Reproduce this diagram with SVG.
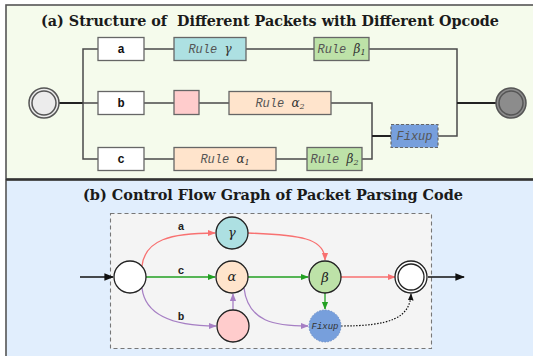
<svg xmlns="http://www.w3.org/2000/svg" width="533" height="356" viewBox="0 0 533 356">
<defs>
<style>
.title{font-family:"DejaVu Serif","Liberation Serif",serif;font-weight:bold;font-size:15px;fill:#1a1a1a}
.box{stroke:#666;stroke-width:1.3}
.lbl{font-family:"Liberation Mono","DejaVu Sans Mono",monospace;font-weight:bold;font-size:12px;fill:#111;text-anchor:middle}
.rule{font-family:"Liberation Mono","DejaVu Sans Mono",monospace;font-style:italic;font-size:12px;fill:#555;text-anchor:middle}
.gk{font-family:"DejaVu Serif","Liberation Serif",serif;font-style:italic;fill:#333}
.wire{stroke:#4a4a4a;stroke-width:1.5;fill:none}
.wireb{stroke:#222;stroke-width:2;fill:none}
.node{stroke:#222;stroke-width:1.3}
.greek{font-family:"DejaVu Serif","Liberation Serif",serif;font-style:italic;font-size:13px;fill:#222;text-anchor:middle}
.elbl{font-family:"Liberation Mono","DejaVu Sans Mono",monospace;font-weight:bold;font-size:11px;fill:#222;text-anchor:middle}
.red{stroke:#f87171;stroke-width:1.3;fill:none}
.grn{stroke:#22a022;stroke-width:1.3;fill:none}
.pur{stroke:#a67fc4;stroke-width:1.3;fill:none}
</style>
<marker id="mr" viewBox="0 0 10 10" refX="9" refY="5" markerWidth="6" markerHeight="6" orient="auto"><path d="M0,1 L10,5 L0,9 z" fill="#f87171"/></marker>
<marker id="mg" viewBox="0 0 10 10" refX="9" refY="5" markerWidth="6" markerHeight="6" orient="auto"><path d="M0,1 L10,5 L0,9 z" fill="#22a022"/></marker>
<marker id="mp" viewBox="0 0 10 10" refX="9" refY="5" markerWidth="6" markerHeight="6" orient="auto"><path d="M0,1 L10,5 L0,9 z" fill="#a67fc4"/></marker>
<marker id="mk" viewBox="0 0 10 10" refX="9" refY="5" markerWidth="6" markerHeight="6" orient="auto"><path d="M0,1 L10,5 L0,9 z" fill="#111"/></marker>
</defs>

<!-- panels -->
<g id="panel-a">
<rect x="6" y="5" width="532" height="174" fill="#f5fbec" stroke="#555" stroke-width="1.6"/>
<text class="title" x="270" y="26" text-anchor="middle" textLength="458" lengthAdjust="spacingAndGlyphs" xml:space="preserve">(a) Structure of  Different Packets with Different Opcode</text>
</g>
<g id="panel-b">
<rect x="6" y="180" width="532" height="180" fill="#e1eefd" stroke="#555" stroke-width="1.6"/>
<line x1="6" y1="179.5" x2="533" y2="179.5" stroke="#333" stroke-width="2.2"/>
<text class="title" x="273" y="200" text-anchor="middle" textLength="380" lengthAdjust="spacingAndGlyphs">(b) Control Flow Graph of Packet Parsing Code</text>
<rect x="110.5" y="213.5" width="321" height="135" fill="#f4f4f4" stroke="#777" stroke-width="1.1" stroke-dasharray="4,3"/>
</g>

<!-- connectors panel a -->
<g id="wires-a">
<path class="wireb" d="M59,103 H83"/>
<path class="wire" d="M98,49 H83 V159 H98 M83,103 H98"/>
<path class="wire" d="M144,49 H174 M246,49 H314 M369,49 H457 V136 H438"/>
<path class="wire" d="M144,103 H174 M199,103 H229 M331,103 H372 V159 H362"/>
<path class="wire" d="M144,159 H174 M276,159 H307"/>
<path class="wireb" d="M372,136 H391"/>
<path class="wireb" d="M457,103 H496"/>
</g>

<g id="start-a">
<circle cx="44" cy="103" r="15" fill="#ececec" stroke="#555" stroke-width="1.5"/>
<circle cx="44" cy="103" r="12" fill="#ececec" stroke="#555" stroke-width="1.5"/>
</g>
<g id="end-a">
<circle cx="511" cy="103" r="15" fill="#8c8c8c" stroke="#555" stroke-width="1.5"/>
<circle cx="511" cy="103" r="12" fill="#8c8c8c" stroke="#555" stroke-width="1.5"/>
</g>

<g id="box-a"><rect class="box" x="98" y="37.5" width="46" height="23" fill="#fff"/><text class="lbl" x="121" y="53">a</text></g>
<g id="box-b"><rect class="box" x="98" y="91.5" width="46" height="23" fill="#fff"/><text class="lbl" x="121" y="107">b</text></g>
<g id="box-c"><rect class="box" x="98" y="147.5" width="46" height="23" fill="#fff"/><text class="lbl" x="121" y="163">c</text></g>

<g id="rule-gamma"><rect class="box" x="174" y="37.5" width="72" height="23" fill="#ade0e2"/><text class="rule" x="210" y="53">Rule <tspan class="gk">γ</tspan></text></g>
<g id="pink-box"><rect class="box" x="174" y="90.5" width="25" height="24" fill="#ffcccc"/></g>
<g id="rule-alpha2"><rect class="box" x="229" y="91.5" width="102" height="23" fill="#ffe4cc"/><text class="rule" x="280" y="107">Rule <tspan class="gk">α</tspan><tspan class="gk" font-style="normal" font-size="8" dy="2">2</tspan></text></g>
<g id="rule-alpha1"><rect class="box" x="174" y="147.5" width="102" height="23" fill="#ffe4cc"/><text class="rule" x="225" y="163">Rule <tspan class="gk">α</tspan><tspan class="gk" font-style="normal" font-size="8" dy="2">1</tspan></text></g>
<g id="rule-beta1"><rect class="box" x="314" y="37.5" width="55" height="23" fill="#bde2a8"/><text class="rule" x="341.5" y="53">Rule <tspan class="gk">β</tspan><tspan class="gk" font-style="normal" font-size="8" dy="2">1</tspan></text></g>
<g id="rule-beta2"><rect class="box" x="307" y="147.5" width="55" height="23" fill="#bde2a8"/><text class="rule" x="334.5" y="163">Rule <tspan class="gk">β</tspan><tspan class="gk" font-style="normal" font-size="8" dy="2">2</tspan></text></g>
<g id="fixup-a"><rect x="391" y="124.5" width="47" height="23" fill="#779fdc" stroke="#666" stroke-width="1.2" stroke-dasharray="3,2"/><text class="rule" x="414.5" y="140" fill="#333">Fixup</text></g>

<!-- connectors panel b -->
<g id="edges-b">
<path d="M80,277 H113" stroke="#111" stroke-width="1.6" fill="none" marker-end="url(#mk)"/>
<path d="M428,277 H464" stroke="#111" stroke-width="1.6" fill="none" marker-end="url(#mk)"/>
<path class="red" d="M142,266 C145,240 170,233 215,233" marker-end="url(#mr)"/>
<path class="grn" d="M146,277 H215" marker-end="url(#mg)"/>
<path class="pur" d="M142,288 C145,314 170,326 216,326" marker-end="url(#mp)"/>
<path class="red" d="M248,233 C300,235 325,238 325,260" marker-end="url(#mr)"/>
<path class="grn" d="M248,277 H308" stroke-width="1.6" marker-end="url(#mg)"/>
<path class="pur" d="M233,310 V294" marker-end="url(#mp)"/>
<path class="pur" d="M244,288 C248,322 275,326 308,326" marker-end="url(#mp)"/>
<path class="red" d="M341,277 H395" marker-end="url(#mr)"/>
<path class="grn" d="M325,293 V309" marker-end="url(#mg)"/>
<path d="M341,326 C390,326 410,318 411,294" stroke="#111" stroke-width="1.2" stroke-dasharray="1.5,1.5" fill="none" marker-end="url(#mk)"/>
<text class="elbl" x="181" y="230">a</text>
<text class="elbl" x="181" y="274">c</text>
<text class="elbl" x="181" y="320">b</text>
</g>

<g id="n-start"><circle class="node" cx="130" cy="277" r="16" fill="#fff"/></g>
<g id="n-gamma"><circle class="node" cx="232" cy="233" r="16" fill="#ade0e2"/><text class="greek" x="232" y="237">γ</text></g>
<g id="n-alpha"><circle class="node" cx="232" cy="277" r="16" fill="#ffe4cc"/><text class="greek" x="232" y="281">α</text></g>
<g id="n-pink"><circle class="node" cx="233" cy="326" r="16" fill="#ffcccc"/></g>
<g id="n-beta"><circle class="node" cx="325" cy="277" r="16" fill="#bde2a8"/><text class="greek" x="325" y="282" font-size="15">β</text></g>
<g id="n-fixup"><circle cx="325" cy="326" r="16" fill="#779fdc" stroke="#6d8fc8" stroke-width="1" stroke-dasharray="1.5,1.5"/><text x="325" y="329" font-family="Liberation Mono,monospace" font-style="italic" font-size="9" fill="#333" text-anchor="middle">Fixup</text></g>
<g id="n-end"><circle class="node" cx="411" cy="277" r="16" fill="#fff" stroke-width="1.5"/><circle class="node" cx="411" cy="277" r="13" fill="#fff" stroke-width="1.5"/></g>
</svg>
